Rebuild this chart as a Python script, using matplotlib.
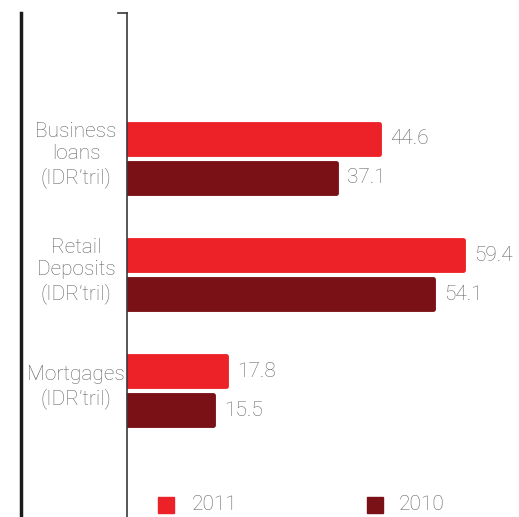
import matplotlib
matplotlib.use("Agg")
import matplotlib.pyplot as plt
from matplotlib.lines import Line2D
from matplotlib.patches import Rectangle

categories = ["Business\nloans\n(IDR’tril)", "Retail\nDeposits\n(IDR’tril)", "Mortgages\n(IDR’tril)"]
values_2011 = [44.6, 59.4, 17.8]
values_2010 = [37.1, 54.1, 15.5]
series_labels = ["2011", "2010"]

C2011 = "#ed2229"
C2010 = "#7a1116"
TXT = "#646464"
FONT = "Roboto"
FS = 15

W, H = 519, 517
fig = plt.figure(figsize=(W / 100, H / 100), dpi=100)
ax = fig.add_axes([127 / W, 0, (W - 127) / W, 1 - 13 / H])

ypos = list(range(len(categories)))
off = 0.168
h = 0.26
lw = 3.5
y11 = [y - off for y in ypos]
y10 = [y + off for y in ypos]
b1 = ax.barh(y11, values_2011, height=h, color=C2011, edgecolor=C2011, linewidth=lw)
b2 = ax.barh(y10, values_2010, height=h, color=C2010, edgecolor=C2010, linewidth=lw)
for bars in (b1, b2):
    for p in bars:
        p.set_joinstyle("round")

for y, v in zip(y11, values_2011):
    ax.annotate(f"{v}", (v, y), xytext=(8, 0), textcoords="offset points",
                va="center", ha="left", color=TXT, fontsize=FS, family=FONT, weight="light")
for y, v in zip(y10, values_2010):
    ax.annotate(f"{v}", (v, y), xytext=(8, 0), textcoords="offset points",
                va="center", ha="left", color=TXT, fontsize=FS, family=FONT, weight="light")

ax.set_xlim(0.42, 69.25)
ax.set_ylim(3.09, -1.254)
for s in ("top", "right", "bottom"):
    ax.spines[s].set_visible(False)
ax.spines["left"].set_color("#3a3a3a")
ax.spines["left"].set_linewidth(1.2)
ax.spines["left"].set_zorder(5)
ax.set_xticks([])
ax.set_yticks([])

for y, c in zip(ypos, categories):
    ax.text(-51 / 5.695 + 0.42, y - 0.03, c, ha="center", va="center", color=TXT,
            fontsize=FS, family=FONT, weight="light", linespacing=1.2)

# top small tick
fig.add_artist(Line2D([118 / W, 127 / W], [1 - 13 / H, 1 - 13 / H], color="#3a3a3a", lw=1.2))
# thick left bar
fig.add_artist(Line2D([21 / W, 21 / W], [0, 1 - 13 / H], color="#1a1a1a", lw=2.5))

# legend
for x0, col, lab, tx in ((158, C2011, series_labels[0], 192), (367, C2010, series_labels[1], 399)):
    fig.add_artist(Rectangle((x0 / W, 1 - 513 / H), 16 / W, 16 / H, color=col, transform=fig.transFigure))
    fig.text(tx / W, 1 - 505 / H, lab, ha="left", va="center", color=TXT, fontsize=FS, family=FONT, weight="light")

fig.savefig("out.png", dpi=100)
